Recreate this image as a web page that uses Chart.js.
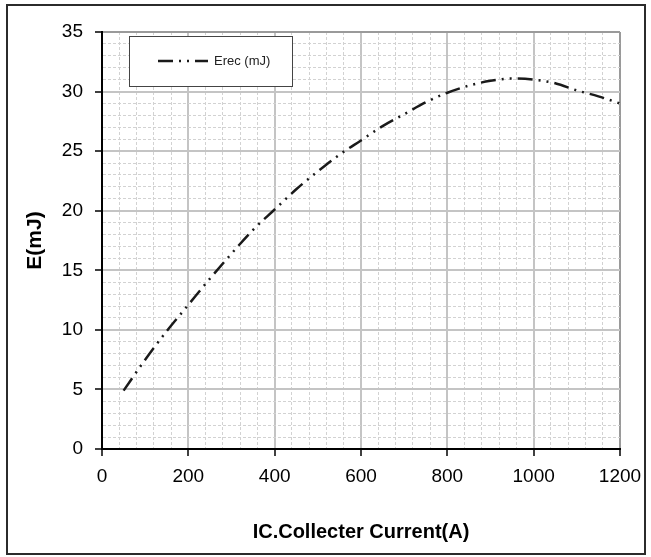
<!DOCTYPE html>
<html>
<head>
<meta charset="utf-8">
<script src="https://cdn.jsdelivr.net/npm/chart.js@4"></script>
<style>
  html, body { margin: 0; padding: 0; background: #fff; }
  #wrap { width: 651px; height: 557px; }
</style>
</head>
<body>
<div id="wrap"><canvas id="erecChart" width="651" height="557"></canvas></div>
<script>
const currentA = [50, 100, 150, 200, 250, 300, 350, 400, 450, 500, 550, 600, 650, 700, 750, 800, 850, 900, 950, 1000, 1050, 1100, 1150, 1200];
const erecMJ = [4.9, 7.5, 9.9, 12.1, 14.3, 16.4, 18.4, 20.1, 21.8, 23.3, 24.7, 25.9, 27.1, 28.1, 29.1, 29.9, 30.5, 30.9, 31.1, 31.0, 30.7, 30.1, 29.6, 29.0];
const seriesLabel = "Erec (mJ)";
const xTitle = "IC.Collecter Current(A)";
const yTitle = "E(mJ)";

const lineDash = [15, 6, 2, 6, 2, 6];
const sans = "'Liberation Sans', Arial, sans-serif";

// frame round the whole picture + boxed legend inside the plot
const framePlugin = {
  id: "frame",
  beforeDraw(chart) {
    const c = chart.ctx;
    c.save();
    c.fillStyle = "#fff";
    c.fillRect(0, 0, chart.width, chart.height);
    c.restore();
  },
  afterDraw(chart) {
    const c = chart.ctx;
    const a = chart.chartArea;
    c.save();
    c.strokeStyle = "#2b2b2b";
    c.lineWidth = 2;
    c.strokeRect(7, 5, 638, 549);

    // legend
    const bx = a.left + 27, by = a.top + 4;
    c.fillStyle = "#fff";
    c.fillRect(bx, by, 163, 50);
    c.strokeStyle = "#444";
    c.lineWidth = 1;
    c.strokeRect(bx + 0.5, by + 0.5, 163, 50);
    c.strokeStyle = "#1a1a1a";
    c.lineWidth = 2.5;
    c.setLineDash(lineDash);
    c.beginPath();
    c.moveTo(bx + 29, by + 25);
    c.lineTo(bx + 79, by + 25);
    c.stroke();
    c.setLineDash([]);
    c.fillStyle = "#222";
    c.font = "13px " + sans;
    c.textBaseline = "middle";
    c.fillText(chart.data.datasets[0].label, bx + 85, by + 25);
    c.restore();
  }
};

function gridColor(ctx, majorStep, max) {
  if (!ctx.tick) return "#ccc";
  const v = Math.round(ctx.tick.value);
  if (v === max) return "#9a9a9a";
  return v % majorStep === 0 ? "#c4c4c4" : "#d2d2d2";
}
function gridWidth(ctx, majorStep) {
  if (!ctx.tick) return 1;
  return Math.round(ctx.tick.value) % majorStep === 0 ? 2 : 1;
}
function gridDash(ctx, majorStep) {
  if (!ctx.tick) return [];
  return Math.round(ctx.tick.value) % majorStep === 0 ? [] : [3, 2];
}
function tickColor(ctx, majorStep) {
  if (!ctx.tick) return "#000";
  return Math.round(ctx.tick.value) % majorStep === 0 ? "#000" : "rgba(0,0,0,0)";
}

const ctxEl = document.getElementById("erecChart");

new Chart(ctxEl, {
  type: "line",
  data: {
    datasets: [{
      label: seriesLabel,
      data: currentA.map((x, i) => ({ x: x, y: erecMJ[i] })),
      borderColor: "#1a1a1a",
      borderWidth: 2.5,
      borderDash: lineDash,
      pointRadius: 0,
      fill: false,
      tension: 0.4,
      cubicInterpolationMode: "monotone"
    }]
  },
  options: {
    responsive: false,
    animation: false,
    layout: { padding: { left: 8, right: 31, top: 32, bottom: 8 } },
    plugins: {
      legend: { display: false },
      tooltip: { enabled: false }
    },
    scales: {
      x: {
        type: "linear",
        min: 0,
        max: 1200,
        afterFit(scale) { scale.height = 100; },
        ticks: {
          stepSize: 40,
          autoSkip: false,
          maxRotation: 0,
          padding: 9,
          color: "#000",
          font: { family: sans, size: 19 },
          callback: v => Math.round(v) % 200 === 0 ? Math.round(v) : ""
        },
        grid: {
          color: c => gridColor(c, 200, 1200),
          lineWidth: c => gridWidth(c, 200),
          tickLength: 7,
          tickWidth: 1.5,
          tickColor: c => tickColor(c, 200)
        },
        border: { display: true, color: "#000", width: 2, dash: c => gridDash(c, 200) },
        title: {
          display: true,
          text: xTitle,
          color: "#000",
          font: { family: sans, size: 20, weight: "bold" },
          padding: { top: 0, bottom: 5 }
        }
      },
      y: {
        type: "linear",
        min: 0,
        max: 35,
        afterFit(scale) { scale.width = 94; },
        ticks: {
          stepSize: 1,
          autoSkip: false,
          padding: 12,
          color: "#000",
          font: { family: sans, size: 19 },
          callback: v => Math.round(v) % 5 === 0 ? Math.round(v) : ""
        },
        grid: {
          color: c => gridColor(c, 5, 35),
          lineWidth: c => gridWidth(c, 5),
          tickLength: 7,
          tickWidth: 1.5,
          tickColor: c => tickColor(c, 5)
        },
        border: { display: true, color: "#000", width: 2, dash: c => gridDash(c, 5) },
        title: {
          display: true,
          text: yTitle,
          color: "#000",
          font: { family: sans, size: 21, weight: "bold" },
          padding: { top: 15, bottom: 0 }
        }
      }
    }
  },
  plugins: [framePlugin]
});
</script>
</body>
</html>
